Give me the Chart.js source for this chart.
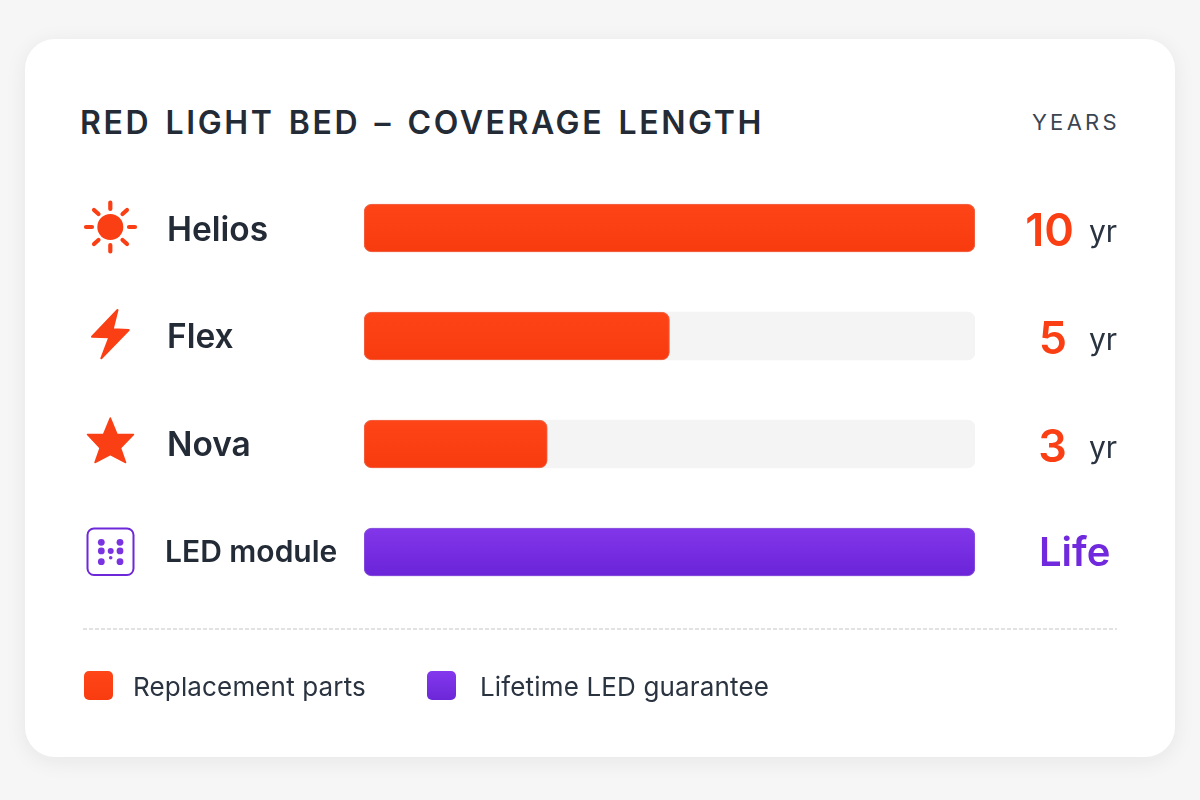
<!DOCTYPE html>
<html>
<head>
<meta charset="utf-8">
<script src="https://cdn.jsdelivr.net/npm/chart.js@4/dist/chart.umd.min.js"></script>
<style>
  html, body { margin: 0; padding: 0; width: 1200px; height: 800px; overflow: hidden; background: #f6f6f6; font-family: Inter, sans-serif; }
  .card { position: absolute; left: 25px; top: 39px; width: 1150px; height: 718px; background: #fff; border-radius: 30px; box-shadow: 0 4px 22px rgba(30, 30, 40, 0.07); }
  canvas, svg { position: absolute; left: 0; top: 0; }
  .title { position: absolute; left: 80px; top: 103px; font-size: 32px; line-height: 40px; font-weight: 600; letter-spacing: 2.6px; word-spacing: 3.7px; color: #232b36; white-space: nowrap; }
  .unit { position: absolute; right: 80px; top: 108px; font-size: 22px; line-height: 28px; letter-spacing: 3.3px; color: #3c4552; }
  .rule { position: absolute; left: 83px; top: 628px; width: 1034px; height: 2px; background: repeating-linear-gradient(90deg, #e2e2e4 0 4px, transparent 4px 6px); }
  .legend-swatch { position: absolute; top: 671px; width: 29px; height: 29px; border-radius: 5px; }
  .legend-text { position: absolute; top: 671px; font-size: 26px; line-height: 32px; color: #2a3340; white-space: nowrap; letter-spacing: 0.15px; }
</style>
</head>
<body>
<div class="card"></div>
<div class="title" id="title"></div>
<div class="unit" id="unit"></div>
<canvas id="canvas-1" width="1200" height="800"></canvas>
<svg width="1200" height="800" viewBox="0 0 1200 800">
  <!-- row icons -->
  <g fill="#fb3f14" stroke="none">
    <circle cx="110.3" cy="227" r="13"/>
    <g stroke="#fb3f14" stroke-width="4.2" stroke-linecap="round">
      <path d="M110.3 202.5v6.5M110.3 245v6.5M86 227h6M129 227h6M94 210l4.5 4M122.5 240l4.5 4M127 210l-4.5 4M98.5 240l-4.5 4"/>
    </g>
    <path d="M117.5 310 92 336.7l17.3.6-8 21 27.4-28.3-16-.7z" stroke="#fb3f14" stroke-width="2" stroke-linejoin="round"/>
    <path d="M110.3 418 117 434.3 133.5 434.5 120.5 448 125.6 462.5 110.3 454.5 95 462.5 100.1 448 87.5 434.5 103.6 434.3z" stroke="#fb3f14" stroke-width="1.5" stroke-linejoin="round"/>
  </g>
  <rect x="87.5" y="528.5" width="46" height="46.5" rx="6.5" fill="none" stroke="#6d28d9" stroke-width="2"/>
  <g fill="#7a33e0">
    <circle cx="101.3" cy="542.3" r="3.4"/><circle cx="120" cy="542.3" r="3.4"/>
    <circle cx="101.3" cy="550.9" r="3.4"/><circle cx="110.7" cy="550.9" r="3"/><circle cx="120" cy="550.9" r="3.4"/>
    <circle cx="110.7" cy="557.7" r="1.8"/>
    <circle cx="101.3" cy="561.7" r="3.4"/><circle cx="120" cy="561.7" r="3.4"/>
  </g>
</svg>
<div class="rule"></div>
<div class="legend-swatch" style="left:84px;background:linear-gradient(#ff4618,#f93c10)"></div>
<div class="legend-text" style="left:133px" id="legend-0"></div>
<div class="legend-swatch" style="left:427px;background:linear-gradient(#8438ee,#6c27d8)"></div>
<div class="legend-text" style="left:480px" id="legend-1"></div>

<script>
// values
var titleText = 'RED LIGHT BED \u2013 COVERAGE LENGTH';
var unitText = 'YEARS';
var categories = ['Helios', 'Flex', 'Nova', 'LED module'];
var replacementYears = [10, 5, 3, null];
var lifetimeYears = [null, null, null, 10];
var trackYears = [10, 10, 10, 10];
var valueLabels = ['10', '5', '3', 'Life'];
var unitLabels = ['yr', 'yr', 'yr', ''];
var legendLabels = ['Replacement parts', 'Lifetime LED guarantee'];

document.getElementById('title').textContent = titleText;
document.getElementById('unit').textContent = unitText;
document.getElementById('legend-0').textContent = legendLabels[0];
document.getElementById('legend-1').textContent = legendLabels[1];

var BAR_H = 48;

function barGradient(top, bottom) {
  return function (ctx) {
    var chart = ctx.chart;
    if (!chart.scales.y) return bottom;
    var y = chart.scales.y.getPixelForValue(ctx.dataIndex);
    if (!isFinite(y)) return bottom;
    var g = chart.ctx.createLinearGradient(0, y - BAR_H / 2, 0, y + BAR_H / 2);
    g.addColorStop(0, top);
    g.addColorStop(1, bottom);
    return g;
  };
}

// numbers to the right of the bars
var valueLabelPlugin = {
  id: 'valueLabels',
  // nudge the category labels, the reference sits a bit under the bar centre
  afterLayout: function (chart) {
    chart.scales.y.getLabelItems(chart.chartArea).forEach(function (item, i) {
      item.options.translation[1] += i === 0 ? 3 : i === 3 ? 1 : 2;
      if (i === 3) item.options.translation[0] -= 2;
    });
  },
  afterDraw: function (chart) {
    var c = chart.ctx;
    var y = chart.scales.y;
    c.save();
    c.textBaseline = 'alphabetic';
    valueLabels.forEach(function (txt, i) {
      var py = y.getPixelForValue(i);
      if (txt === 'Life') {
        c.font = '600 40px Inter';
        c.fillStyle = '#7029dc';
        c.textAlign = 'left';
        c.fillText(txt, 1039, py + 14);
        return;
      }
      c.font = '600 45px Inter';
      c.fillStyle = '#fb3f14';
      c.textAlign = 'right';
      c.fillText(txt, i === 0 ? 1074 : 1067, py + 18);
      c.font = '400 30px Inter';
      c.fillStyle = '#2a3340';
      c.textAlign = 'left';
      c.fillText(unitLabels[i], 1089, py + 14);
    });
    c.restore();
  }
};

// soft shadow under the coloured bars
var barShadowPlugin = {
  id: 'barShadow',
  beforeDatasetDraw: function (chart, args) {
    if (args.index === 0) return;
    chart.ctx.save();
    chart.ctx.shadowColor = args.index === 2 ? 'rgba(109, 40, 217, 0.25)' : 'rgba(251, 63, 20, 0.12)';
    chart.ctx.shadowBlur = 10;
    chart.ctx.shadowOffsetY = 3;
  },
  afterDatasetDraw: function (chart, args) {
    if (args.index === 0) return;
    chart.ctx.restore();
  }
};

var barChart = new Chart(document.getElementById('canvas-1'), {
  type: 'bar',
  data: {
    labels: categories,
    datasets: [{
      label: 'track',
      data: trackYears,
      backgroundColor: '#f4f4f5',
      order: 3
    }, {
      label: legendLabels[0],
      data: replacementYears,
      backgroundColor: barGradient('#fe4517', '#f83b0f'),
      borderColor: 'rgba(236, 52, 10, 0.7)',
      borderWidth: 1,
      order: 2
    }, {
      label: legendLabels[1],
      data: lifetimeYears,
      backgroundColor: barGradient('#8236ea', '#6b24d8'),
      borderColor: 'rgba(100, 30, 210, 0.7)',
      borderWidth: 1,
      order: 1
    }]
  },
  options: {
    indexAxis: 'y',
    responsive: false,
    animation: false,
    devicePixelRatio: 1,
    layout: { padding: { left: 167, right: 225, top: 174, bottom: 194 } },
    datasets: {
      bar: { grouped: false, barThickness: BAR_H, borderRadius: 8, borderSkipped: false }
    },
    plugins: { legend: { display: false }, title: { display: false }, tooltip: { enabled: false } },
    scales: {
      x: { display: false, min: 0, max: 10 },
      y: {
        afterFit: function (scale) { scale.width = 197; },
        grid: { display: false },
        border: { display: false },
        ticks: {
          crossAlign: 'far',
          padding: 0,
          color: '#232b36',
          font: function (ctx) {
            return { family: 'Inter', weight: '600', size: ctx.index === 3 ? 30 : 33.5 };
          }
        }
      }
    }
  },
  plugins: [valueLabelPlugin, barShadowPlugin]
});
</script>
</body>
</html>
